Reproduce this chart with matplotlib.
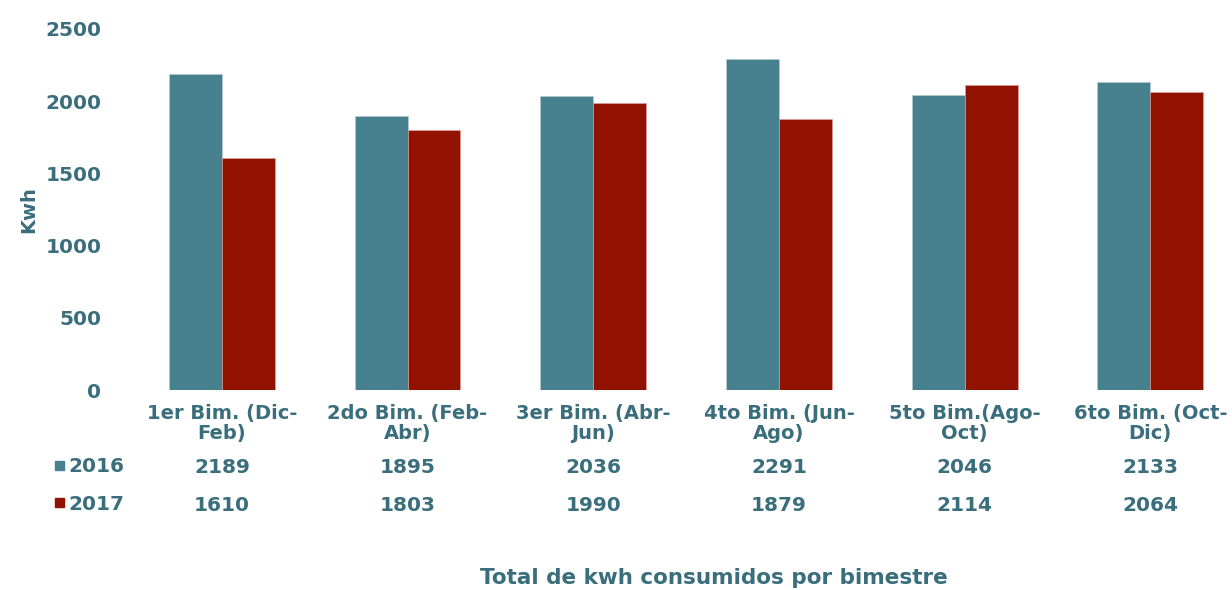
import numpy as np
import matplotlib
matplotlib.use("Agg")
import matplotlib.pyplot as plt
from matplotlib.patches import Rectangle

# data
categories = ["1er Bim. (Dic-\nFeb)", "2do Bim. (Feb-\nAbr)", "3er Bim. (Abr-\nJun)",
              "4to Bim. (Jun-\nAgo)", "5to Bim.(Ago-\nOct)", "6to Bim. (Oct-\nDic)"]
series_names = ["2016", "2017"]
values_2016 = [2189, 1895, 2036, 2291, 2046, 2133]
values_2017 = [1610, 1803, 1990, 1879, 2114, 2064]
y_ticks = [0, 500, 1000, 1500, 2000, 2500]

teal = "#47818f"
red = "#921200"
text_color = "#3a6e7c"

plt.rcParams['font.family'] = ['DejaVu Sans']

fig = plt.figure(figsize=(12.32, 5.90), dpi=100)
ax = fig.add_axes([129 / 1232, 200 / 590, (1232 - 129) / 1232, 361 / 590])

x = np.arange(len(categories))
w = 0.285
ax.bar(x - w / 2, values_2016, w, color=teal, edgecolor="#b9ccd1", linewidth=0.4)
ax.bar(x + w / 2, values_2017, w, color=red, edgecolor="#e0a8a0", linewidth=0.4)

ax.set_xlim(-0.5, 5.44)
ax.set_ylim(0, 2500)
ax.set_yticks(y_ticks)
ax.set_yticklabels([str(t) for t in y_ticks], fontsize=14.5, fontweight="bold", color=text_color)
ax.tick_params(axis="y", length=0, pad=20)
ax.set_xticks([])
for s in ax.spines.values():
    s.set_visible(False)

ax.set_ylabel("Kwh", fontsize=14, fontweight="bold", color=text_color)
ax.yaxis.set_label_coords(-0.082, 0.5)

# data table below the bars
trans = ax.get_xaxis_transform()
for i, cat in enumerate(categories):
    ax.text(x[i], -0.04, cat, transform=trans, ha="center", va="top", fontsize=14,
            fontweight="bold", color=text_color, linespacing=1.05)
    ax.text(x[i], -0.215, str(values_2016[i]), transform=trans, ha="center", va="center",
            fontsize=14.5, fontweight="bold", color=text_color)
    ax.text(x[i], -0.32, str(values_2017[i]), transform=trans, ha="center", va="center",
            fontsize=14.5, fontweight="bold", color=text_color)

for name, col, ypix in [(series_names[0], teal, 467), (series_names[1], red, 504)]:
    fig.patches.append(Rectangle((55 / 1232, (590 - ypix - 3) / 590), 9 / 1232, 9 / 590,
                                 transform=fig.transFigure, color=col))
    fig.text(68 / 1232, (590 - ypix) / 590, name, ha="left", va="center", fontsize=14.5,
             fontweight="bold", color=text_color)

fig.text(714 / 1232, (590 - 578) / 590, "Total de kwh consumidos por bimestre",
         ha="center", va="center", fontsize=15.5, fontweight="bold", color=text_color)

fig.savefig("out.png", dpi=100)
